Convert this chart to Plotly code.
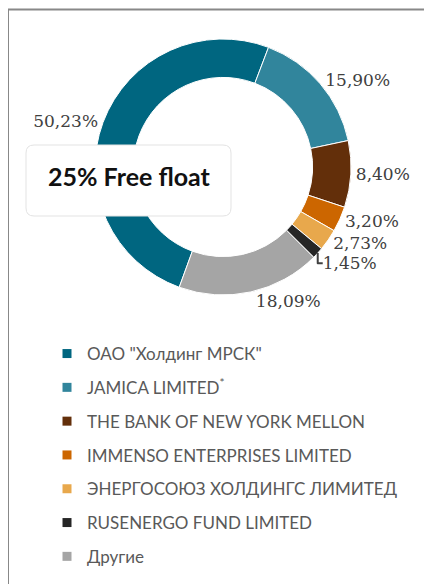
import plotly.graph_objects as go

# the page puts the figure 8px in from the top-left corner
OFF = 8
W, H = 432 - OFF, 584 - OFF

holders = ['ОАО "Холдинг МРСК"', 'JAMICA LIMITED<sup>*</sup>', 'THE BANK OF NEW YORK MELLON',
           'IMMENSO ENTERPRISES LIMITED', 'ЭНЕРГОСОЮЗ ХОЛДИНГС ЛИМИТЕД',
           'RUSENERGO FUND LIMITED', 'Другие']
shares = [50.23, 15.90, 8.40, 3.20, 2.73, 1.45, 18.09]
colors = ['#006680', '#31859C', '#632F0A', '#CC6600', '#E8A84C', '#262626', '#A5A5A5']


def px(x, y):
    # screen pixel -> paper coords
    return (x - OFF) / W, 1 - (y - OFF) / H


def rounded_box(x0, y0, x1, y1, r=8):
    rx, ry = r / W, r / H
    a0, b1 = px(x0, y0)
    a1, b0 = px(x1, y1)
    return (f"M {a0+rx},{b1} L {a1-rx},{b1} Q {a1},{b1} {a1},{b1-ry} "
            f"L {a1},{b0+ry} Q {a1},{b0} {a1-rx},{b0} L {a0+rx},{b0} "
            f"Q {a0},{b0} {a0},{b0+ry} L {a0},{b1-ry} Q {a0},{b1} {a0+rx},{b1} Z")


fig = go.Figure()

dx0, dy0 = px(95, 39)
dx1, dy1 = px(351, 295)
fig.add_trace(go.Pie(
    labels=holders, values=shares, sort=False, direction='clockwise', rotation=200,
    hole=0.70, marker=dict(colors=colors, line=dict(color='white', width=1)),
    texttemplate='%{value:.2f}%', textposition='outside',
    textfont=dict(family='DejaVu Serif', size=17, color='#404040'),
    domain=dict(x=[dx0, dx1], y=[dy1, dy0]),
    showlegend=False, hoverinfo='label+value',
))

# legend entries (separate traces so the rows can be spaced out)
for name, c in zip(holders, colors):
    fig.add_trace(go.Scatter(
        x=[None], y=[None], mode='markers', name=name, legendgroup=name,
        marker=dict(symbol='square', size=9, color=c),
    ))

bx0, by0 = px(8, 9.5)
fig.add_shape(type='rect', xref='paper', yref='paper', x0=bx0, y0=-0.1, x1=1.1, y1=by0,
              line=dict(color='#888888', width=2))
fig.add_shape(type='path', xref='paper', yref='paper', path=rounded_box(26, 145, 231, 216),
              fillcolor='white', line=dict(color='#E3E3E3', width=1), layer='above')

cx, cy = px(129, 176)
fig.add_annotation(xref='paper', yref='paper', x=cx, y=cy, xanchor='center', yanchor='middle',
                   text='<b>25% Free float</b>', showarrow=False,
                   font=dict(family='Lato', size=25, color='#111111'))

lx, ly = px(47, 336)
fig.update_layout(
    width=W, height=H, margin=dict(l=0, r=0, t=0, b=0),
    paper_bgcolor='white', plot_bgcolor='white', separators=', ',
    xaxis=dict(visible=False), yaxis=dict(visible=False),
    legend=dict(x=lx, y=ly, xanchor='left', yanchor='top', tracegroupgap=8.7,
                font=dict(family='Lato', size=17, color='#595959'),
                bgcolor='rgba(0,0,0,0)'),
)

fig.write_html("out.html")
